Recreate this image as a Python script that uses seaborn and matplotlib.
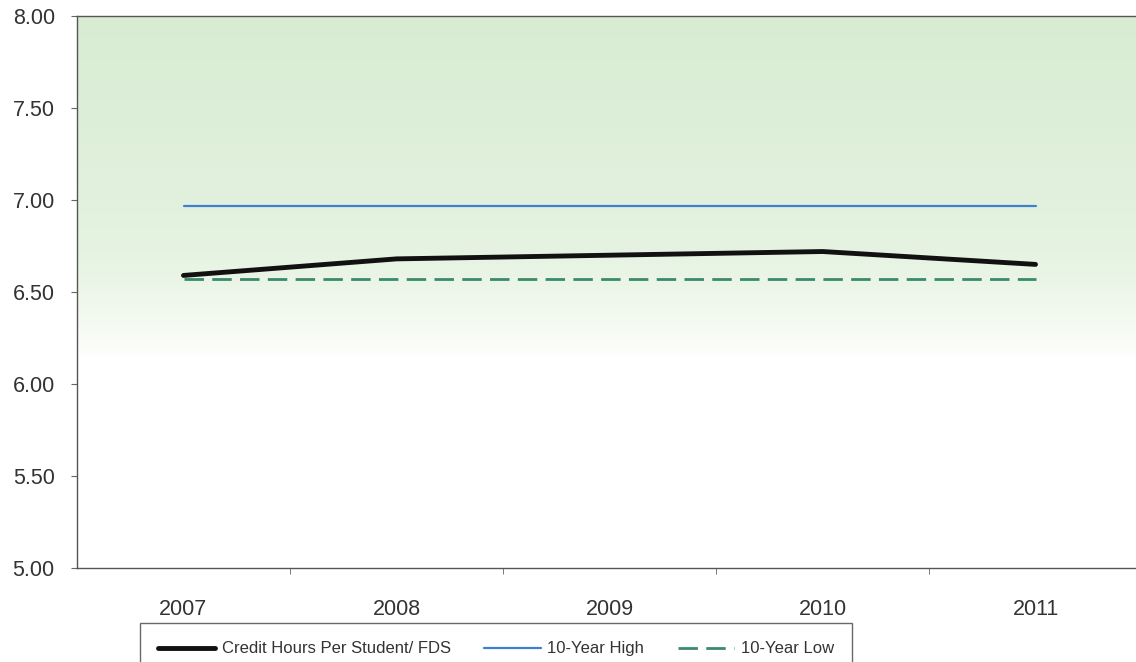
import numpy as np
import pandas as pd
import matplotlib
matplotlib.use("Agg")
import matplotlib.pyplot as plt
from matplotlib.colors import LinearSegmentedColormap
import seaborn as sns

# Data
years = ["2007", "2008", "2009", "2010", "2011"]
credit_hours = [6.59, 6.68, 6.70, 6.72, 6.65]
ten_year_high = [6.97, 6.97, 6.97, 6.97, 6.97]
ten_year_low = [6.57, 6.57, 6.57, 6.57, 6.57]

LABEL_MAIN = "Credit Hours Per Student/ FDS"
LABEL_HIGH = "10-Year High"
LABEL_LOW = "10-Year Low"

sns.set_style("ticks")
plt.rcParams["font.family"] = ["Liberation Sans", "DejaVu Sans"]

df = pd.DataFrame({"year": years, LABEL_MAIN: credit_hours,
                   LABEL_HIGH: ten_year_high, LABEL_LOW: ten_year_low})
df["x"] = np.arange(len(years))

fig = plt.figure(figsize=(11.36, 6.62), dpi=100)
ax = fig.add_axes([77 / 1136, 1 - 568 / 662, 1065 / 1136, 552 / 662])

# green background at the top, fading to white between about 6.6 and 6.15
cmap = LinearSegmentedColormap.from_list(
    "bg", [(0.0, "#ffffff"), (0.25, "#f8fcf5"), (0.55, "#e6f3e2"), (1.0, "#d8ecd3")])
grad = np.clip((np.linspace(5.0, 8.0, 400) - 6.15) / 1.85, 0, 1)[:, None]
grad = np.sqrt(grad)
ax.imshow(grad, extent=[-0.5, 4.5, 5.0, 8.0], origin="lower", aspect="auto",
          cmap=cmap, vmin=0, vmax=1, zorder=0)

sns.lineplot(data=df, x="x", y=LABEL_HIGH, ax=ax, color="#3f7fd0", lw=1.6,
             label=LABEL_HIGH, zorder=3)
sns.lineplot(data=df, x="x", y=LABEL_LOW, ax=ax, color="#3a8a6c", lw=2.0,
             label=LABEL_LOW, zorder=3)
ax.lines[-1].set_dashes([7, 3])
sns.lineplot(data=df, x="x", y=LABEL_MAIN, ax=ax, color="#111111", lw=3.5,
             label=LABEL_MAIN, zorder=4)

ax.set_xlim(-0.5, 4.5)
ax.set_ylim(5.0, 8.0)
yt = np.arange(5.0, 8.01, 0.5)
ax.set_yticks(yt)
ax.set_yticklabels([f"{v:.2f}" for v in yt], fontsize=15.5, color="#333333")
ax.set_xticks(np.arange(len(years)))
ax.set_xticklabels(years, fontsize=15.5, color="#333333")
ax.set_xticks(np.arange(0.5, 4.0, 1.0), minor=True)
ax.tick_params(axis="x", which="major", length=0, pad=22)
ax.tick_params(axis="x", which="minor", length=4.5, color="#666666")
ax.tick_params(axis="y", length=4.5, color="#666666", pad=11.5)
ax.set_xlabel("")
ax.set_ylabel("")
for s in ["left", "bottom", "top"]:
    ax.spines[s].set_color("#555555")
    ax.spines[s].set_linewidth(1.0)
ax.spines["right"].set_visible(False)

handles, labels = ax.get_legend_handles_labels()
order = [labels.index(LABEL_MAIN), labels.index(LABEL_HIGH), labels.index(LABEL_LOW)]
leg = fig.legend([handles[i] for i in order], [labels[i] for i in order],
                 loc="upper left", bbox_to_anchor=(140 / 1136, 1 - 623 / 662),
                 ncol=3, frameon=True, fancybox=False, fontsize=12,
                 handlelength=3.4, handletextpad=0.4, columnspacing=2.0,
                 borderpad=1.1, borderaxespad=0, edgecolor="#444444")
leg.get_frame().set_linewidth(1.0)
for t in leg.get_texts():
    t.set_color("#333333")
ax.get_legend().remove()

fig.savefig("out.png", dpi=100)
